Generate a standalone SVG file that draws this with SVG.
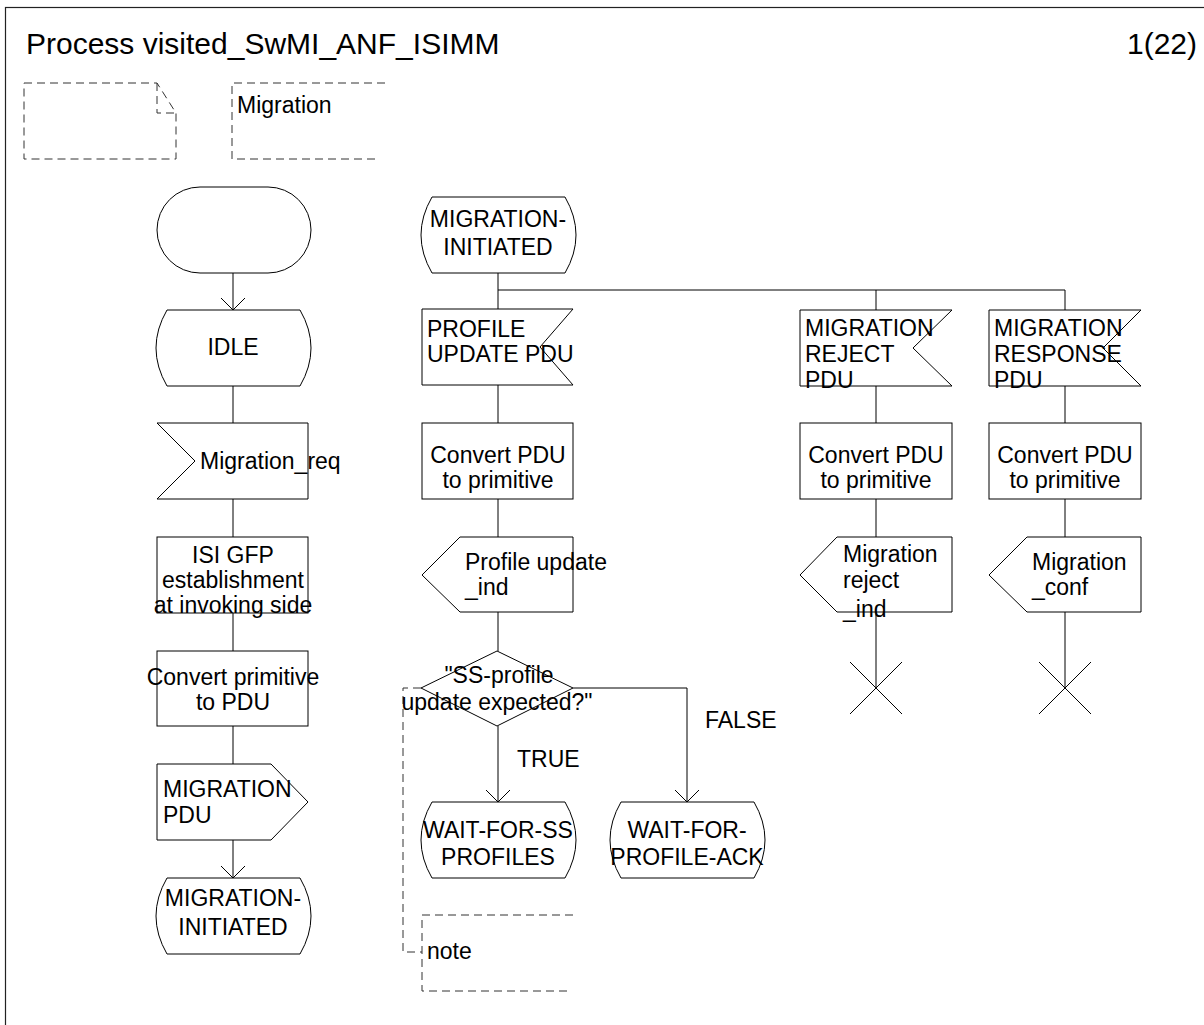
<svg xmlns="http://www.w3.org/2000/svg" width="1204" height="1025" viewBox="0 0 1204 1025">
<defs>
<style>
.s{fill:#fff;stroke:#000;stroke-width:1}
.l{fill:none;stroke:#000;stroke-width:1}
.d{fill:none;stroke:#333;stroke-width:1;stroke-dasharray:8,5}
text{font-family:"Liberation Sans",Arial,sans-serif;font-size:23px;fill:#000}
.c{text-anchor:middle}
.t{font-size:30px}
</style>
<marker id="arr" viewBox="-13 -13 14 26" markerWidth="14" markerHeight="26" refX="0" refY="0" orient="auto" markerUnits="userSpaceOnUse">
<path d="M-12,-12 L0,0 L-12,12" fill="none" stroke="#000" stroke-width="1"/>
</marker>
</defs>
<rect width="1204" height="1025" fill="#fff"/>
<rect x="5.5" y="7.5" width="1300" height="1100" fill="none" stroke="#222" stroke-width="1.2"/>
<text class="t" x="26" y="54">Process visited_SwMI_ANF_ISIMM</text>
<text class="t" x="1197" y="54" text-anchor="end">1(22)</text>

<g id="textsym">
<path class="d" d="M24,83 L157,83 L176,113 L176,159 L24,159 Z M157,83 L157,113 L176,113"/>
</g>
<g id="comment-migration">
<path class="d" d="M385,83 L232,83 L232,159 L380,159"/>
<text x="237" y="113">Migration</text>
</g>

<g id="connectors">
<line class="l" x1="233" y1="273" x2="233" y2="310" marker-end="url(#arr)"/>
<line class="l" x1="233" y1="386" x2="233" y2="423"/>
<line class="l" x1="233" y1="499" x2="233" y2="537"/>
<line class="l" x1="233" y1="613" x2="233" y2="651"/>
<line class="l" x1="233" y1="726" x2="233" y2="764"/>
<line class="l" x1="233" y1="840" x2="233" y2="878" marker-end="url(#arr)"/>
<line class="l" x1="498" y1="273" x2="498" y2="309"/>
<polyline class="l" points="498,290 1065,290 1065,310"/>
<line class="l" x1="876" y1="290" x2="876" y2="310"/>
<line class="l" x1="498" y1="385" x2="498" y2="423"/>
<line class="l" x1="498" y1="499" x2="498" y2="537"/>
<line class="l" x1="498" y1="612" x2="498" y2="651"/>
<line class="l" x1="498" y1="726" x2="498" y2="802" marker-end="url(#arr)"/>
<polyline class="l" points="573,688 687,688 687,802" marker-end="url(#arr)"/>
<line class="l" x1="876" y1="386" x2="876" y2="423"/>
<line class="l" x1="876" y1="499" x2="876" y2="537"/>
<line class="l" x1="876" y1="612" x2="876" y2="688"/>
<line class="l" x1="1065" y1="386" x2="1065" y2="423"/>
<line class="l" x1="1065" y1="499" x2="1065" y2="537"/>
<line class="l" x1="1065" y1="612" x2="1065" y2="688"/>
<polyline class="d" points="421,688 403,688 403,952 422,952"/>
<text x="517" y="767">TRUE</text>
<text x="705" y="728">FALSE</text>
</g>

<g id="start">
<rect class="s" x="157" y="187" width="154" height="86" rx="43" ry="43"/>
</g>
<g id="idle">
<path class="s" d="M167,310 L300,310 Q322,348 300,386 L167,386 Q145,348 167,310 Z"/>
<text class="c" x="233" y="355">IDLE</text>
</g>
<g id="in-migration-req">
<polygon class="s" points="157,423 308,423 308,499 157,499 195,461"/>
<text x="200" y="469">Migration_req</text>
</g>
<g id="task-isi">
<rect class="s" x="157" y="537" width="151" height="76"/>
<text class="c" x="233" y="563">ISI GFP</text>
<text class="c" x="233" y="588">establishment</text>
<text class="c" x="233" y="613">at invoking side</text>
</g>
<g id="task-convert-prim">
<rect class="s" x="157" y="651" width="151" height="75"/>
<text class="c" x="233" y="685">Convert primitive</text>
<text class="c" x="233" y="710">to PDU</text>
</g>
<g id="out-migration-pdu">
<polygon class="s" points="157,764 271,764 308,802 271,840 157,840"/>
<text x="163" y="797">MIGRATION</text>
<text x="163" y="823">PDU</text>
</g>
<g id="state-mi-left">
<path class="s" d="M167,878 L300,878 Q322,916 300,954 L167,954 Q145,916 167,878 Z"/>
<text class="c" x="233" y="906">MIGRATION-</text>
<text class="c" x="233" y="935">INITIATED</text>
</g>

<g id="state-mi">
<path class="s" d="M432,197 L565,197 Q587,235 565,273 L432,273 Q410,235 432,197 Z"/>
<text class="c" x="498" y="227">MIGRATION-</text>
<text class="c" x="498" y="255">INITIATED</text>
</g>
<g id="in-profile-update">
<polygon class="s" points="422,309 573,309 540,347 573,385 422,385"/>
<text x="427" y="337">PROFILE</text>
<text x="427" y="362">UPDATE PDU</text>
</g>
<g id="task-convert-pdu-1">
<rect class="s" x="422" y="423" width="151" height="76"/>
<text class="c" x="498" y="463">Convert PDU</text>
<text class="c" x="498" y="488">to primitive</text>
</g>
<g id="out-profile-update-ind">
<polygon class="s" points="460,537 573,537 573,612 460,612 422,575"/>
<text x="465" y="570">Profile update</text>
<text x="465" y="595">_ind</text>
</g>
<g id="decision">
<polygon class="s" points="497,651 573,688 497,726 421,688"/>
<text class="c" x="499" y="683">"SS-profile</text>
<text class="c" x="497" y="710">update expected?"</text>
</g>
<g id="state-wait-ss">
<path class="s" d="M432,802 L565,802 Q587,840 565,878 L432,878 Q410,840 432,802 Z"/>
<text class="c" x="498" y="838">WAIT-FOR-SS</text>
<text class="c" x="498" y="865">PROFILES</text>
</g>
<g id="state-wait-ack">
<path class="s" d="M621,802 L754,802 Q776,840 754,878 L621,878 Q599,840 621,802 Z"/>
<text class="c" x="687" y="838">WAIT-FOR-</text>
<text class="c" x="687" y="865">PROFILE-ACK</text>
</g>
<g id="note">
<path class="d" d="M573,915 L422,915 L422,991 L568,991"/>
<text x="427" y="959">note</text>
</g>

<g id="in-migration-reject">
<polygon class="s" points="800,310 952,310 913,348 952,386 800,386"/>
<text x="805" y="336">MIGRATION</text>
<text x="805" y="362">REJECT</text>
<text x="805" y="388">PDU</text>
</g>
<g id="task-convert-pdu-2">
<rect class="s" x="800" y="423" width="152" height="76"/>
<text class="c" x="876" y="463">Convert PDU</text>
<text class="c" x="876" y="488">to primitive</text>
</g>
<g id="out-migration-reject-ind">
<polygon class="s" points="837,537 952,537 952,612 837,612 800,575"/>
<text x="843" y="562">Migration</text>
<text x="843" y="588">reject</text>
<text x="843" y="617">_ind</text>
</g>
<g id="stop-1">
<path class="l" d="M850,662 L902,714 M902,662 L850,714"/>
</g>

<g id="in-migration-response">
<polygon class="s" points="989,310 1141,310 1103,348 1141,386 989,386"/>
<text x="994" y="336">MIGRATION</text>
<text x="994" y="362">RESPONSE</text>
<text x="994" y="388">PDU</text>
</g>
<g id="task-convert-pdu-3">
<rect class="s" x="989" y="423" width="152" height="76"/>
<text class="c" x="1065" y="463">Convert PDU</text>
<text class="c" x="1065" y="488">to primitive</text>
</g>
<g id="out-migration-conf">
<polygon class="s" points="1027,537 1141,537 1141,612 1027,612 989,575"/>
<text x="1032" y="570">Migration</text>
<text x="1032" y="595">_conf</text>
</g>
<g id="stop-2">
<path class="l" d="M1039,662 L1091,714 M1091,662 L1039,714"/>
</g>
</svg>
